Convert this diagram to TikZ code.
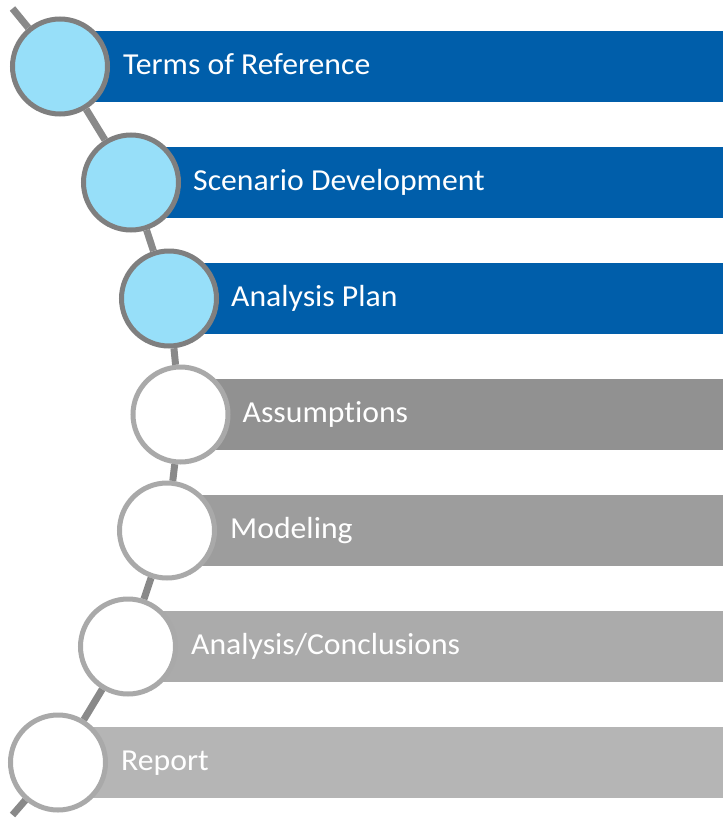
\documentclass[tikz,border=0pt]{standalone}
\usepackage{fontspec}
\setmainfont{Carlito}[Ligatures=NoCommon,FakeStretch=1.04]
\definecolor{barblue}{HTML}{005EAA}
\definecolor{lightblue}{HTML}{97DFF9}
\definecolor{ringdark}{HTML}{7F7F7F}
\definecolor{ringlight}{HTML}{A9A9A9}
\definecolor{linkgray}{HTML}{898989}
\definecolor{gfour}{HTML}{919191}
\definecolor{gfive}{HTML}{9D9D9D}
\definecolor{gsix}{HTML}{ABABAB}
\definecolor{gseven}{HTML}{B5B5B5}
\begin{document}
\begin{tikzpicture}[x=1pt,y=-1pt,
  lbl/.style={anchor=base west, inner sep=0pt, text=white, font=\fontsize{30.5}{31}\selectfont},
  done/.style={circle, draw=ringdark, fill=lightblue, line width=5pt, minimum size=95pt, inner sep=0pt},
  todo/.style={circle, draw=ringlight, fill=white, line width=5pt, minimum size=95pt, inner sep=0pt},
  link/.style={draw=linkgray, line width=7pt}]
\useasboundingbox[fill=white] (0,0) rectangle (723,819);
% circle centres
\coordinate (p1) at (60,66.5);
\coordinate (p2) at (131,182.5);
\coordinate (p3) at (169,298.5);
\coordinate (p4) at (180.5,414.5);
\coordinate (p5) at (167,530.5);
\coordinate (p6) at (128,646.5);
\coordinate (p7) at (58,762.5);
\coordinate (s) at (12.5,8.5);
\coordinate (e) at (12.5,815);
% bars
\fill[barblue] (60,31) rectangle (723,102);
\fill[barblue] (131,147) rectangle (723,218);
\fill[barblue] (169,263) rectangle (723,334);
\fill[gfour] (180.5,379) rectangle (723,450);
\fill[gfive] (167,495) rectangle (723,566);
\fill[gsix] (128,611) rectangle (723,682);
\fill[gseven] (58,727) rectangle (723,798);
% labels
\node[lbl] (t1) at ([xshift=63pt,yshift=-7.5pt]p1) {Terms of Reference};
\node[lbl] (t2) at ([xshift=62pt,yshift=-7.5pt]p2) {Scenario Development};
\node[lbl] (t3) at ([xshift=62pt,yshift=-7.5pt]p3) {Analysis Plan};
\node[lbl] (t4) at ([xshift=62pt,yshift=-7.5pt]p4) {Assumptions};
\node[lbl] (t5) at ([xshift=63pt,yshift=-7.5pt]p5) {Modeling};
\node[lbl] (t6) at ([xshift=63pt,yshift=-7.5pt]p6) {Analysis/Conclusions};
\node[lbl] (t7) at ([xshift=63pt,yshift=-7.5pt]p7) {Report};
% circles
\node[done] (c1) at (p1) {};
\node[done] (c2) at (p2) {};
\node[done] (c3) at (p3) {};
\node[todo] (c4) at (p4) {};
\node[todo] (c5) at (p5) {};
\node[todo] (c6) at (p6) {};
\node[todo] (c7) at (p7) {};
% connectors
\draw[link] (s) -- (c1);
\draw[link] (c1) -- (c2);
\draw[link] (c2) -- (c3);
\draw[link] (c3) -- (c4);
\draw[link] (c4) -- (c5);
\draw[link] (c5) -- (c6);
\draw[link] (c6) -- (c7);
\draw[link] (c7) -- (e);
\end{tikzpicture}
\end{document}
